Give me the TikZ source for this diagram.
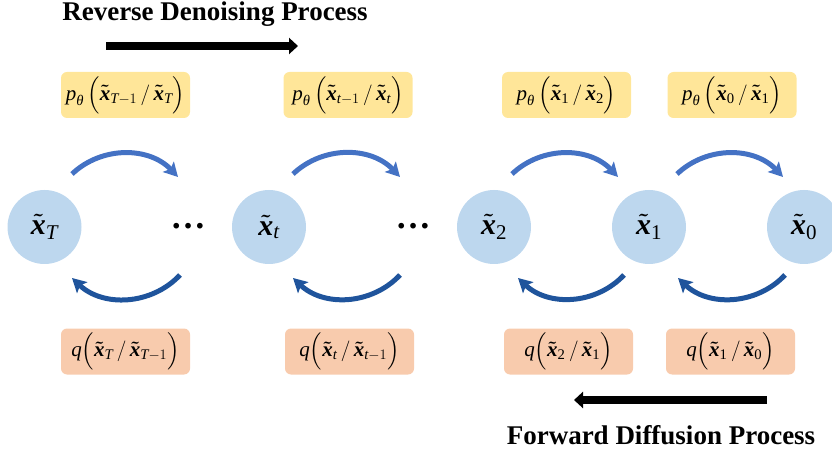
\documentclass[tikz,border=0pt]{standalone}
\usepackage{amsmath}
\usepackage{fontspec}
\setmainfont{Liberation Serif}
\usetikzlibrary{arrows.meta}
\definecolor{circfill}{HTML}{BDD7EE}
\definecolor{ybox}{HTML}{FFE699}
\definecolor{obox}{HTML}{F8CBAD}
\definecolor{topblue}{HTML}{4472C4}
\definecolor{botblue}{HTML}{1F549C}
\newcommand{\xv}{\boldsymbol{\tilde{\mbox{\bfseries\itshape x}}}}
\newcommand{\mysub}[1]{_{\text{\normalfont #1}}}
\newcommand{\myisub}[1]{_{\text{\normalfont\itshape #1}}}
\newcommand{\mym}[1]{_{\text{\normalfont\itshape #1}-1}}
\newcommand{\pth}{\text{\normalfont\itshape p}_{\text{\normalfont\itshape θ}}\,}
\newcommand{\qq}{\text{\normalfont\itshape q}}
\begin{document}
\begin{tikzpicture}[x=1pt,y=-1pt,
  state/.style={circle, fill=circfill, minimum size=74pt, inner sep=0pt, font=\fontsize{30}{32}\selectfont},
  pbox/.style={rounded corners=6pt, fill=ybox, minimum width=129pt, minimum height=46pt, inner sep=0pt, font=\fontsize{21}{24}\selectfont},
  qbox/.style={pbox, fill=obox},
  dotsn/.style={inner sep=0pt, font=\fontsize{35}{36}\selectfont\bfseries},
  title/.style={inner sep=0pt, font=\fontsize{27}{30}\selectfont\bfseries},
  bigarrow/.style={line width=7.5pt, -{Triangle[length=9pt,width=16pt]}},
  toparc/.style={topblue, line width=5pt, -{Stealth[length=14pt,width=15pt,inset=3pt]}, bend left=45},
  botarc/.style={botblue, line width=5pt, -{Stealth[length=14pt,width=15pt,inset=3pt]}, bend left=45}
]
\useasboundingbox (0,0) rectangle (832,454);
\clip (0,0) rectangle (832,454);

% titles and big arrows
\node[title] (rtitle) at (215,14) {Reverse Denoising Process};
\coordinate (r1) at (106,46);
\coordinate (r2) at (298,46);
\draw[bigarrow] (r1) -- (r2);

\node[title] (ftitle) at (661,435) {Forward Diffusion Process};
\coordinate (f1) at (767,400);
\coordinate (f2) at (574,400);
\draw[bigarrow] (f1) -- (f2);

% states
\node[state] (xT) at (44.5,227) {$\xv\myisub{T}$};
\node[dotsn] (d1) at (188,226) {…};
\node[state] (xt) at (269,227) {$\xv\myisub{t}$};
\node[dotsn] (d2) at (413,226) {…};
\node[state] (x2) at (494,227) {$\xv\mysub{2}$};
\node[state] (x1) at (649,227) {$\xv\mysub{1}$};
\node[state] (x0) at (804,227) {$\xv\mysub{0}$};

% reverse boxes
\node[pbox] (p1) at (125.5,95) {$\pth\Big(\xv\mym{T}\,/\,\xv\myisub{T}\Big)$};
\node[pbox] (p2) at (348,95) {$\pth\Big(\xv\mym{t}\,/\,\xv\myisub{t}\Big)$};
\node[pbox] (p3) at (566.5,95) {$\pth\Big(\xv\mysub{1}\,/\,\xv\mysub{2}\Big)$};
\node[pbox] (p4) at (732,95) {$\pth\Big(\xv\mysub{0}\,/\,\xv\mysub{1}\Big)$};

% forward boxes
\node[qbox] (q1) at (125.5,351.5) {$\qq\Big(\xv\myisub{T}\,/\,\xv\mym{T}\Big)$};
\node[qbox] (q2) at (349.5,351.5) {$\qq\Big(\xv\myisub{t}\,/\,\xv\mym{t}\Big)$};
\node[qbox] (q3) at (568.5,351.5) {$\qq\Big(\xv\mysub{2}\,/\,\xv\mysub{1}\Big)$};
\node[qbox] (q4) at (730.5,351.5) {$\qq\Big(\xv\mysub{1}\,/\,\xv\mysub{0}\Big)$};

% arc end points
\coordinate (t1s) at (72,174);  \coordinate (t1e) at (178,177);
\coordinate (t2s) at (293,174); \coordinate (t2e) at (400,177);
\coordinate (t3s) at (512,174); \coordinate (t3e) at (618,177);
\coordinate (t4s) at (677,174); \coordinate (t4e) at (783,177);
\coordinate (b1s) at (180,275); \coordinate (b1e) at (72,278);
\coordinate (b2s) at (400,275); \coordinate (b2e) at (293,278);
\coordinate (b3s) at (624,275); \coordinate (b3e) at (518,278);
\coordinate (b4s) at (785,275); \coordinate (b4e) at (678,278);

\draw[toparc] (t1s) to (t1e);
\draw[toparc] (t2s) to (t2e);
\draw[toparc] (t3s) to (t3e);
\draw[toparc] (t4s) to (t4e);
\draw[botarc] (b1s) to (b1e);
\draw[botarc] (b2s) to (b2e);
\draw[botarc] (b3s) to (b3e);
\draw[botarc] (b4s) to (b4e);
\end{tikzpicture}
\end{document}
